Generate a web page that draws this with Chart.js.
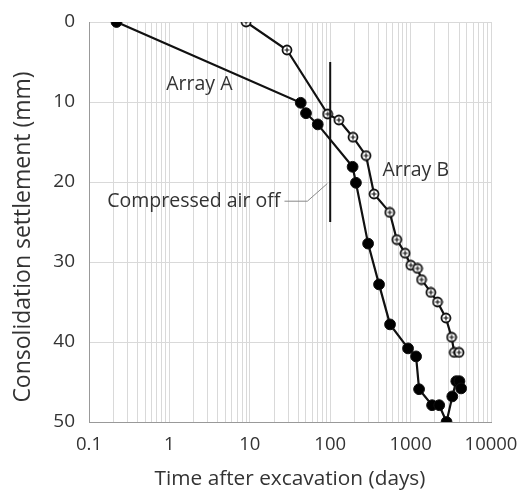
<!DOCTYPE html>
<html>
<head>
<meta charset="utf-8">
<script src="https://cdn.jsdelivr.net/npm/chart.js@4"></script>
<style>
  body { margin: 0; background: #fff; }
  #wrap { width: 520px; height: 493px; }
</style>
</head>
<body>
<div id="wrap"><canvas id="chart" width="520" height="493"></canvas></div>
<script>
// Array A (filled circles): time (days) and settlement (mm)
const timeA = [0.22, 43, 50, 70, 190, 209, 296, 405, 555, 930, 1170, 1275, 1850, 2270, 2800, 3300, 3700, 4050, 4250];
const settleA = [0, 10.1, 11.4, 12.8, 18.1, 20.1, 27.7, 32.8, 37.8, 40.8, 41.8, 45.9, 47.9, 47.9, 50, 46.8, 44.9, 44.9, 45.8];

// Array B (open circles)
const timeB = [9, 29, 93, 128, 192, 279, 351, 550, 673, 855, 1005, 1219, 1367, 1786, 2163, 2747, 3236, 3490, 4000];
const settleB = [0, 3.5, 11.5, 12.25, 14.4, 16.7, 21.5, 23.8, 27.2, 28.9, 30.4, 30.8, 32.2, 33.8, 35.0, 37.0, 39.4, 41.3, 41.3];

// compressed air off marker
const airOffTime = [100, 100];
const airOffSettle = [5, 25];
const leaderTime = [27, 52, 92];
const leaderSettle = [22.4, 22.4, 20.2];

const xTickLabels = ['0.1', '1', '10', '100', '1000', '10000'];
const yTickLabels = ['0', '10', '20', '30', '40', '50'];

const textColor = '#333';
const fontFamily = '"Open Sans", sans-serif';

// open marker with a cross inside
function openMarker() {
    const c = document.createElement('canvas');
    c.width = 12; c.height = 12;
    const g = c.getContext('2d');
    g.fillStyle = '#fff';
    g.strokeStyle = '#111';
    g.lineWidth = 1.8;
    g.beginPath();
    g.arc(6, 6, 4.5, 0, Math.PI * 2);
    g.fill();
    g.stroke();
    g.lineWidth = 1.2;
    g.beginPath();
    g.moveTo(3.5, 6); g.lineTo(8.5, 6);
    g.moveTo(6, 3.5); g.lineTo(6, 8.5);
    g.stroke();
    return c;
}

const toPts = (xs, ys) => xs.map((x, i) => ({ x: x, y: ys[i] }));

// log grid: 1..9 within each decade
const gridVals = [];
xTickLabels.forEach((lab, i) => {
    const d = parseFloat(lab);
    if (i === xTickLabels.length - 1) { gridVals.push(d); return; }
    for (let m = 1; m < 10; m++) gridVals.push(+(d * m).toPrecision(3));
});

const labelsPlugin = {
    id: 'labels',
    afterDatasetsDraw(chart) {
        const ctx = chart.ctx;
        const x = chart.scales.x, y = chart.scales.y;
        ctx.save();
        ctx.fillStyle = textColor;
        ctx.font = '19.5px ' + fontFamily;
        ctx.textBaseline = 'middle';
        ctx.textAlign = 'center';
        ctx.fillText('Array A', x.getPixelForValue(2.36), y.getPixelForValue(7.75));
        ctx.fillText('Array B', x.getPixelForValue(1160), y.getPixelForValue(18.6));
        ctx.textAlign = 'right';
        ctx.fillText('Compressed air off', x.getPixelForValue(24), y.getPixelForValue(22.4));
        // y axis title
        ctx.translate(23, 237);
        ctx.rotate(-Math.PI / 2);
        ctx.textAlign = 'center';
        ctx.font = '23px ' + fontFamily;
        ctx.fillText('Consolidation settlement (mm)', 0, 0);
        ctx.restore();
    }
};

new Chart(document.getElementById('chart'), {
    type: 'line',
    data: {
        datasets: [{
            label: 'Compressed air off',
            data: toPts(airOffTime, airOffSettle),
            borderColor: '#111',
            borderWidth: 2,
            pointRadius: 0
        }, {
            label: 'leader',
            data: toPts(leaderTime, leaderSettle),
            borderColor: '#888',
            borderWidth: 1,
            pointRadius: 0
        }, {
            label: 'Array B',
            data: toPts(timeB, settleB),
            borderColor: '#111',
            borderWidth: 2.2,
            pointStyle: openMarker(),
            pointRadius: 6
        }, {
            label: 'Array A',
            data: toPts(timeA, settleA),
            borderColor: '#111',
            backgroundColor: '#000',
            borderWidth: 2.2,
            pointStyle: 'circle',
            pointRadius: 5.4,
            pointBorderWidth: 1
        }]
    },
    options: {
        responsive: false,
        animation: false,
        layout: { padding: { top: 22, right: 29, left: 0, bottom: 0 } },
        plugins: {
            legend: { display: false },
            tooltip: { enabled: false }
        },
        scales: {
            x: {
                type: 'logarithmic',
                min: 0.1,
                max: 10000,
                afterFit(scale) {
                    scale.height = 71;
                    scale.paddingLeft = 0;
                    scale.paddingRight = 0;
                },
                afterBuildTicks(scale) {
                    scale.ticks = gridVals.map(v => ({ value: v }));
                },
                ticks: {
                    autoSkip: false,
                    maxRotation: 0,
                    color: textColor,
                    padding: 12,
                    font: { family: fontFamily, size: 18.5 },
                    callback(v) {
                        const lab = xTickLabels.find(l => Math.abs(parseFloat(l) - v) < 1e-9);
                        return lab || '';
                    }
                },
                grid: { color: '#d9d9d9', drawTicks: false },
                border: { color: '#999' },
                title: {
                    display: true,
                    text: 'Time after excavation (days)',
                    color: textColor,
                    font: { family: fontFamily, size: 20.8 },
                    padding: { top: 0, bottom: 1 }
                }
            },
            y: {
                reverse: true,
                min: 0,
                max: 50,
                afterFit(scale) {
                    scale.width = 89;
                    scale.paddingTop = 0;
                    scale.paddingBottom = 0;
                },
                ticks: {
                    stepSize: 10,
                    color: textColor,
                    padding: 14,
                    font: { family: fontFamily, size: 19 },
                    callback(v) { return yTickLabels.includes(String(v)) ? String(v) : ''; }
                },
                grid: { color: '#d9d9d9', drawTicks: false },
                border: { color: '#999' }
            }
        }
    },
    plugins: [labelsPlugin]
});
</script>
</body>
</html>
